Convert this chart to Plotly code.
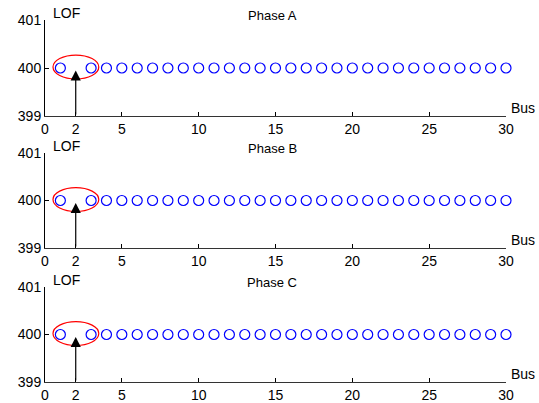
import plotly.graph_objects as go

buses = [1] + list(range(3, 31))
lof_a = [400] * len(buses)
lof_b = [400] * len(buses)
lof_c = [400] * len(buses)
phases = ["Phase A", "Phase B", "Phase C"]
series = [lof_a, lof_b, lof_c]
x_ticks = [0, 2, 5, 10, 15, 20, 25, 30]
y_ticks = [399, 400, 401]

W, H = 539, 403
fig = go.Figure()

# pixel layout of panels (top, bottom)
panels = [(20, 116), (153, 248), (287, 382)]
xl, xr = 45, 506
fam = "Liberation Sans, Arial, sans-serif"
font = dict(family=fam, size=14, color="black")
lab_font = dict(family=fam, size=13, color="black")

for i, (name, vals) in enumerate(zip(phases, series)):
    k = "" if i == 0 else str(i + 1)
    xa, ya = "x" + k, "y" + k
    top, bot = panels[i]
    fig.add_trace(go.Scatter(
        x=buses, y=vals, mode="markers", xaxis=xa, yaxis=ya,
        marker=dict(symbol="circle-open", size=10, color="#0000ff", line=dict(width=1.2)),
        cliponaxis=False, showlegend=False))
    fig.update_layout(**{
        "xaxis" + k: dict(domain=[xl / W, xr / W], range=[0, 30], anchor=ya, automargin=False,
                          tickvals=x_ticks, ticktext=[str(t) for t in x_ticks],
                          ticks="inside", ticklen=4, tickcolor="black",
                          showline=True, linecolor="#333333", linewidth=1,
                          showgrid=False, zeroline=False, tickfont=font),
        "yaxis" + k: dict(domain=[1 - bot / H, 1 - top / H], range=[399, 401], anchor=xa,
                          automargin=False,
                          tickvals=y_ticks, ticks="inside", ticklen=4, tickcolor="black",
                          showline=True, linecolor="black", linewidth=1,
                          showgrid=False, zeroline=False, tickfont=font),
    })
    fig.add_shape(type="circle", xref=xa, yref=ya, x0=0.52, x1=3.5, y0=399.77, y1=400.27,
                  line=dict(color="red", width=1.2))
    fig.add_annotation(x=2, y=399.95, ax=2, ay=399, xref=xa, yref=ya, axref=xa, ayref=ya,
                       text="", showarrow=True, arrowhead=2, arrowsize=1.7, arrowwidth=1.2,
                       arrowcolor="black", standoff=0)
    fig.add_annotation(text="LOF", xref="paper", yref="paper", x=51 / W, y=1 - (top - 7) / H,
                       xanchor="left", yanchor="middle", showarrow=False, font=font)
    fig.add_annotation(text="Bus", xref="paper", yref="paper", x=509 / W, y=1 - (bot - 8) / H,
                       xanchor="left", yanchor="middle", showarrow=False, font=font)
    fig.add_annotation(text=name, xref="paper", yref="paper", x=272 / W, y=1 - (top - 5) / H,
                       xanchor="center", yanchor="middle", showarrow=False, font=lab_font)

fig.update_layout(width=W, height=H, margin=dict(l=0, r=0, t=0, b=0),
                  plot_bgcolor="white", paper_bgcolor="white")
fig.write_html("out.html")
